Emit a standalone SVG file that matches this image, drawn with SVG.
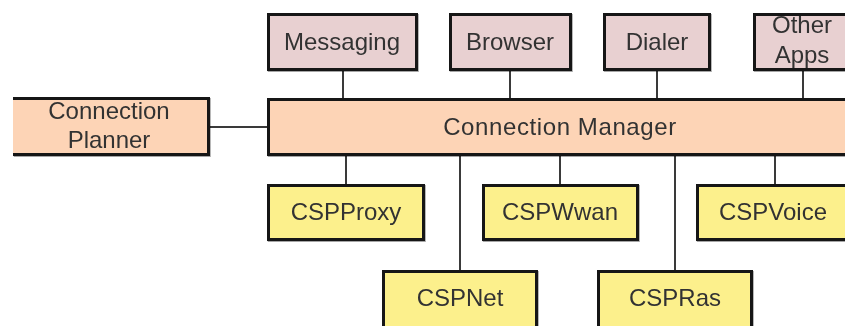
<svg xmlns="http://www.w3.org/2000/svg" width="845" height="326" viewBox="0 0 845 326">
  <style>
    .box { stroke: #141414; stroke-width: 3; }
    .app { fill: #E8D0D1; }
    .mgr { fill: #FDD4B6; }
    .csp { fill: #FCF08C; }
    .lbl { font-family: "Liberation Sans", Arial, sans-serif; font-size: 24px; fill: #333; text-anchor: middle; }
    .wire { stroke: #3a3a3a; stroke-width: 2; fill: none; }
  </style>
  <defs>
    <filter id="shade" x="-5%" y="-5%" width="110%" height="115%">
      <feDropShadow dx="0.8" dy="1" stdDeviation="0.6" flood-color="#000" flood-opacity="0.35"/>
    </filter>
  </defs>
  <rect width="845" height="326" fill="#ffffff"/>

  <!-- connectors -->
  <g id="connectors">
    <line class="wire" x1="343" y1="70" x2="343" y2="99"/>
    <line class="wire" x1="510" y1="70" x2="510" y2="99"/>
    <line class="wire" x1="657" y1="70" x2="657" y2="99"/>
    <line class="wire" x1="803" y1="58" x2="803" y2="99"/>
    <line class="wire" x1="210" y1="127" x2="268" y2="127"/>
    <line class="wire" x1="346" y1="155" x2="346" y2="185"/>
    <line class="wire" x1="460" y1="155" x2="460" y2="271"/>
    <line class="wire" x1="560" y1="155" x2="560" y2="185"/>
    <line class="wire" x1="675" y1="155" x2="675" y2="271"/>
    <line class="wire" x1="775" y1="155" x2="775" y2="185"/>
  </g>

  <!-- application row -->
  <g id="messaging" filter="url(#shade)">
    <rect class="box app" x="268.5" y="14.5" width="148" height="55"/>
    <text class="lbl" x="342" y="50">Messaging</text>
  </g>
  <g id="browser" filter="url(#shade)">
    <rect class="box app" x="450.5" y="14.5" width="120" height="55"/>
    <text class="lbl" x="510" y="50">Browser</text>
  </g>
  <g id="dialer" filter="url(#shade)">
    <rect class="box app" x="604.5" y="14.5" width="105" height="55"/>
    <text class="lbl" x="657" y="50">Dialer</text>
  </g>
  <g id="other-apps" filter="url(#shade)">
    <rect class="box app" x="754.5" y="14.5" width="120" height="55"/>
    <text class="lbl" x="802" y="33">Other</text>
    <text class="lbl" x="802" y="63">Apps</text>
  </g>

  <!-- planner, open on its left side -->
  <g id="connection-planner" filter="url(#shade)">
    <rect class="mgr" x="13" y="98" width="196" height="56"/>
    <path class="box" d="M13 98.5 H208.5 V154.5 H13" fill="none"/>
    <text class="lbl" x="109" y="119">Connection</text>
    <text class="lbl" x="109" y="148">Planner</text>
  </g>

  <g id="connection-manager" filter="url(#shade)">
    <rect class="box mgr" x="268.5" y="99.5" width="600" height="55"/>
    <text class="lbl" x="560" y="135" letter-spacing="0.6">Connection Manager</text>
  </g>

  <!-- service providers -->
  <g id="csp-proxy" filter="url(#shade)">
    <rect class="box csp" x="268.5" y="185.5" width="155" height="54"/>
    <text class="lbl" x="346" y="220">CSPProxy</text>
  </g>
  <g id="csp-wwan" filter="url(#shade)">
    <rect class="box csp" x="483.5" y="185.5" width="154" height="54"/>
    <text class="lbl" x="560" y="220">CSPWwan</text>
  </g>
  <g id="csp-voice" filter="url(#shade)">
    <rect class="box csp" x="697.5" y="185.5" width="160" height="54"/>
    <text class="lbl" x="773" y="220">CSPVoice</text>
  </g>
  <g id="csp-net" filter="url(#shade)">
    <rect class="box csp" x="383.5" y="271.5" width="153" height="70"/>
    <text class="lbl" x="460" y="306">CSPNet</text>
  </g>
  <g id="csp-ras" filter="url(#shade)">
    <rect class="box csp" x="598.5" y="271.5" width="153" height="70"/>
    <text class="lbl" x="675" y="306">CSPRas</text>
  </g>
</svg>
